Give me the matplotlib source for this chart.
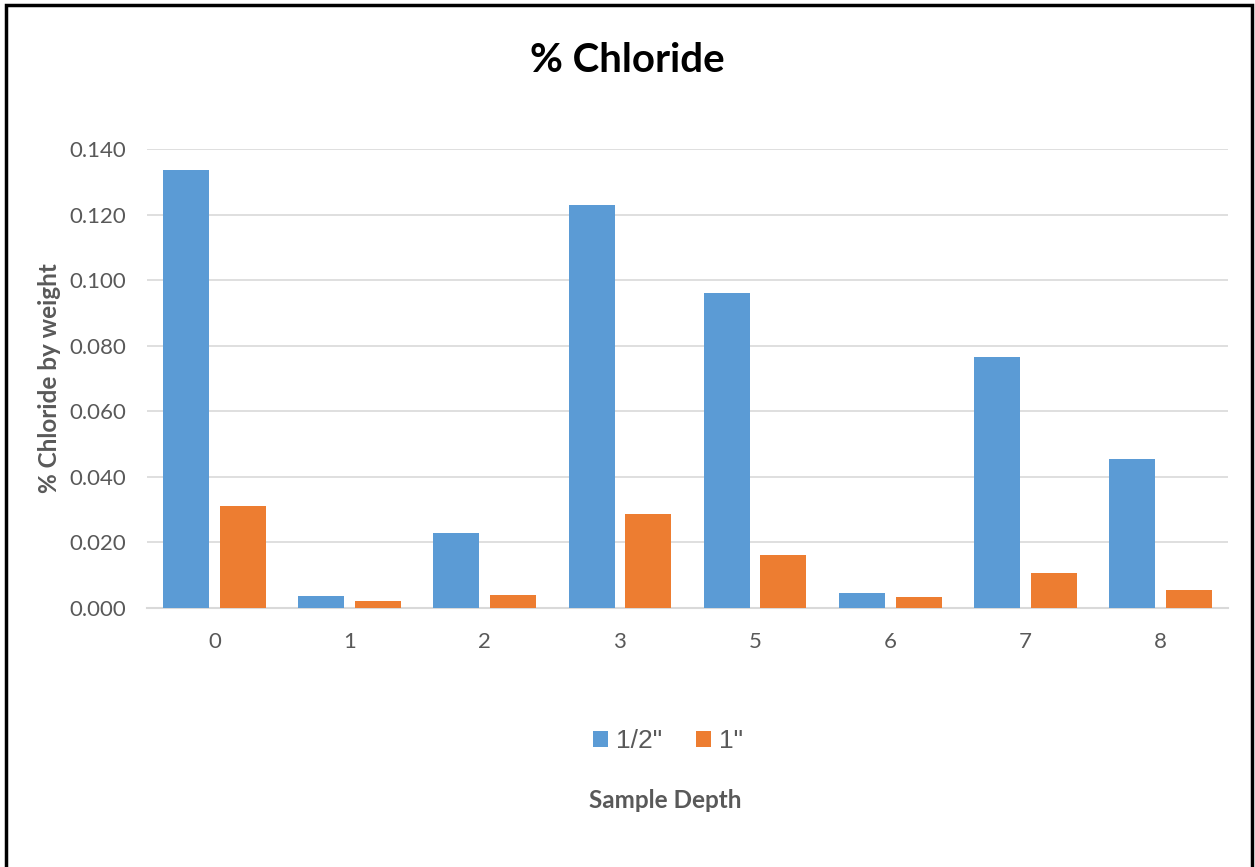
import numpy as np
import matplotlib
matplotlib.use("Agg")
import matplotlib.pyplot as plt
from matplotlib.patches import Rectangle

# Sample depth categories and chloride values (% by weight)
depths = ["0", "1", "2", "3", "5", "6", "7", "8"]
half_inch = [0.1335, 0.0037, 0.0229, 0.1229, 0.0960, 0.0046, 0.0767, 0.0455]
one_inch = [0.0312, 0.0021, 0.0040, 0.0287, 0.0162, 0.0034, 0.0107, 0.0055]
series_names = ['1/2"', '1"']
yticks = [0.0, 0.02, 0.04, 0.06, 0.08, 0.10, 0.12, 0.14]

blue = "#5b9bd5"
orange = "#ed7d31"
gray = "#595959"

plt.rcParams["font.family"] = ["Lato", "DejaVu Sans"]

fig = plt.figure(figsize=(12.55, 8.67), dpi=100)
ax = fig.add_axes([0.1171, 0.2987, 0.8614, 0.5295])

x = np.arange(len(depths))
w = 0.34
ax.bar(x - 0.21, half_inch, w, color=blue, label=series_names[0], zorder=3)
ax.bar(x + 0.21, one_inch, w, color=orange, label=series_names[1], zorder=3)

ax.set_xlim(-0.5, len(depths) - 0.5)
ax.set_ylim(0, 0.14)
ax.set_yticks(yticks)
ax.set_yticklabels(["%.3f" % v for v in yticks])
ax.set_xticks(x)
ax.set_xticklabels(depths)
ax.tick_params(axis="both", length=0, labelsize=16, labelcolor=gray)
ax.tick_params(axis="y", pad=15)
ax.tick_params(axis="x", pad=17)
ax.grid(axis="y", color="#d9d9d9", lw=1.2, zorder=0)
for s in ["top", "right", "left"]:
    ax.spines[s].set_visible(False)
ax.spines["bottom"].set_color("#d9d9d9")
ax.spines["bottom"].set_linewidth(1.5)

ax.set_ylabel("% Chloride by weight", fontsize=17.5, fontweight="bold", color=gray, labelpad=6)
fig.text(0.5299, 0.077, "Sample Depth", ha="center", va="center",
         fontsize=17.5, fontweight="bold", color=gray)
fig.text(0.5, 0.930, "% Chloride", ha="center", va="center",
         fontsize=29, fontweight="bold", color="black")

leg = ax.legend(loc="center", bbox_to_anchor=(0.482, -0.29), ncol=2, frameon=False,
                handlelength=0.55, handleheight=0.55, handletextpad=0.3, columnspacing=1.3,
                prop={"family": "Liberation Sans", "size": 19})
for t in leg.get_texts():
    t.set_color(gray)

# outer frame around the chart
fig.add_artist(Rectangle((6 / 1255, -0.05), 1246 / 1255, (867 - 5) / 867 + 0.05,
                         transform=fig.transFigure, fill=False, edgecolor="black", lw=2.5))

fig.savefig("out.png", dpi=100)
